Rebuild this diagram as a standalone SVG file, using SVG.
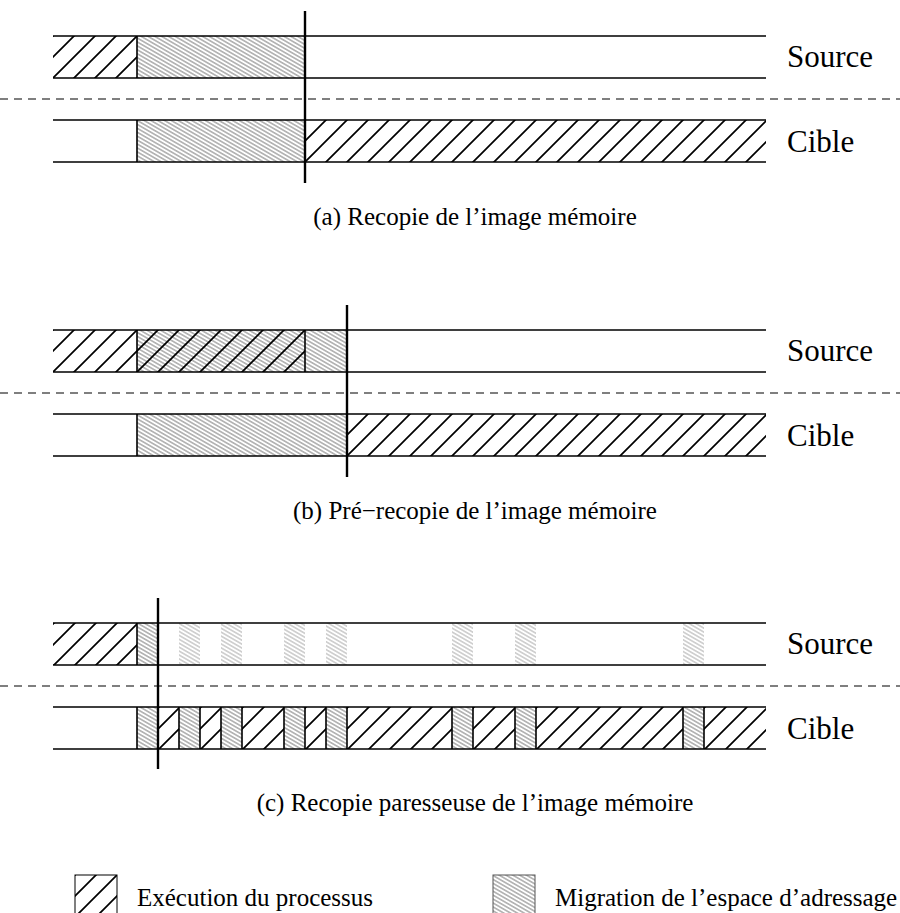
<svg xmlns="http://www.w3.org/2000/svg" width="900" height="913" viewBox="0 0 900 913">
  <defs>
    <!-- process execution: bold forward diagonals -->
    <pattern id="exec" patternUnits="userSpaceOnUse" x="5" y="0" width="21" height="21">
      <path d="M-3,24 L24,-3 M-3,3 L3,-3 M18,24 L24,18" stroke="#000" stroke-width="1.7" fill="none"/>
    </pattern>
    <!-- address space migration: fine grey back diagonals -->
    <pattern id="mig" patternUnits="userSpaceOnUse" width="10" height="3.4" patternTransform="rotate(30)">
      <line x1="-1" y1="1.7" x2="11" y2="1.7" stroke="#444" stroke-width="0.75"/>
    </pattern>
    <pattern id="migLight" patternUnits="userSpaceOnUse" width="10" height="3.4" patternTransform="rotate(30)">
      <line x1="-1" y1="1.7" x2="11" y2="1.7" stroke="#888" stroke-width="0.75"/>
    </pattern>
  </defs>
  <style>
    .band { stroke: #000; stroke-width: 1.3; fill: none; }
    .edge { stroke: #000; stroke-width: 1.6; fill: none; }
    .bar { stroke: #000; stroke-width: 2.4; fill: none; }
    .dash { stroke: #000; stroke-width: 1.2; stroke-dasharray: 8 6; fill: none; }
    .ex { fill: url(#exec); }
    .mg { fill: url(#mig); }
    .ml { fill: url(#migLight); }
    .lbl { font-family: "Liberation Serif", "Times New Roman", serif; font-size: 31px; fill: #000; }
    .cap { font-family: "Liberation Serif", "Times New Roman", serif; font-size: 25px; fill: #000; text-anchor: middle; }
    .leg { font-family: "Liberation Serif", "Times New Roman", serif; font-size: 25px; fill: #000; }
  </style>

  <!-- (a) full copy of the memory image -->
  <g id="panel-a">
    <rect class="ex" x="53" y="36" width="84" height="42"/>
    <rect class="mg" x="137" y="36" width="168" height="42"/>
    <rect class="mg" x="137" y="120" width="168" height="42"/>
    <rect class="ex" x="305" y="120" width="461" height="42"/>
    <path class="band" d="M53,36 H766 M53,78 H766 M53,120 H766 M53,162 H766"/>
    <path class="edge" d="M137,36 V78 M137,120 V162"/>
    <path class="dash" d="M0,99 H900"/>
    <path class="bar" d="M305,11 V183"/>
    <text class="lbl" x="787" y="67">Source</text>
    <text class="lbl" x="787" y="152">Cible</text>
    <text class="cap" x="475" y="225">(a) Recopie de l’image mémoire</text>
  </g>

  <!-- (b) pre-copy of the memory image -->
  <g id="panel-b">
    <rect class="ex" x="53" y="330" width="84" height="42"/>
    <rect class="mg" x="137" y="330" width="210" height="42"/>
    <rect class="ex" x="137" y="330" width="168" height="42"/>
    <rect class="mg" x="137" y="414" width="210" height="42"/>
    <rect class="ex" x="347" y="414" width="419" height="42"/>
    <path class="band" d="M53,330 H766 M53,372 H766 M53,414 H766 M53,456 H766"/>
    <path class="edge" d="M137,330 V372 M305,330 V372 M137,414 V456"/>
    <path class="dash" d="M0,393 H900"/>
    <path class="bar" d="M347,305 V477"/>
    <text class="lbl" x="787" y="361">Source</text>
    <text class="lbl" x="787" y="446">Cible</text>
    <text class="cap" x="475" y="519">(b) Pré−recopie de l’image mémoire</text>
  </g>

  <!-- (c) lazy copy of the memory image -->
  <g id="panel-c">
    <rect class="ex" x="53" y="623" width="84" height="42"/>
    <rect class="mg" x="137" y="623" width="21" height="42"/>
    <rect class="ml" x="179" y="623" width="21" height="42"/>
    <rect class="ml" x="221" y="623" width="21" height="42"/>
    <rect class="ml" x="284" y="623" width="21" height="42"/>
    <rect class="ml" x="326" y="623" width="21" height="42"/>
    <rect class="ml" x="452" y="623" width="21" height="42"/>
    <rect class="ml" x="515" y="623" width="21" height="42"/>
    <rect class="ml" x="683" y="623" width="21" height="42"/>

    <rect class="mg" x="137" y="707" width="21" height="42"/>
    <rect class="ex" x="158" y="707" width="21" height="42"/>
    <rect class="mg" x="179" y="707" width="21" height="42"/>
    <rect class="ex" x="200" y="707" width="21" height="42"/>
    <rect class="mg" x="221" y="707" width="21" height="42"/>
    <rect class="ex" x="242" y="707" width="42" height="42"/>
    <rect class="mg" x="284" y="707" width="21" height="42"/>
    <rect class="ex" x="305" y="707" width="21" height="42"/>
    <rect class="mg" x="326" y="707" width="21" height="42"/>
    <rect class="ex" x="347" y="707" width="105" height="42"/>
    <rect class="mg" x="452" y="707" width="21" height="42"/>
    <rect class="ex" x="473" y="707" width="42" height="42"/>
    <rect class="mg" x="515" y="707" width="21" height="42"/>
    <rect class="ex" x="536" y="707" width="147" height="42"/>
    <rect class="mg" x="683" y="707" width="21" height="42"/>
    <rect class="ex" x="704" y="707" width="62" height="42"/>

    <path class="band" d="M53,623 H766 M53,665 H766 M53,707 H766 M53,749 H766"/>
    <path class="edge" d="M137,623 V665 M137,707 V749 M179,707 V749 M200,707 V749 M221,707 V749 M242,707 V749 M284,707 V749 M305,707 V749 M326,707 V749 M347,707 V749 M452,707 V749 M473,707 V749 M515,707 V749 M536,707 V749 M683,707 V749 M704,707 V749"/>
    <path class="dash" d="M0,686 H900"/>
    <path class="bar" d="M158,598 V769"/>
    <text class="lbl" x="787" y="654">Source</text>
    <text class="lbl" x="787" y="739">Cible</text>
    <text class="cap" x="475" y="811">(c) Recopie paresseuse de l’image mémoire</text>
  </g>

  <!-- legend -->
  <g id="legend-exec">
    <rect class="ex" x="75" y="875" width="42" height="42"/>
    <rect x="75" y="875" width="42" height="42" fill="none" stroke="#000" stroke-width="1"/>
    <text class="leg" x="137" y="906">Exécution du processus</text>
  </g>
  <g id="legend-mig">
    <rect class="mg" x="493" y="875" width="42" height="42"/>
    <rect x="493" y="875" width="42" height="42" fill="none" stroke="#555" stroke-width="1"/>
    <text class="leg" x="555" y="906">Migration de l’espace d’adressage</text>
  </g>
</svg>
